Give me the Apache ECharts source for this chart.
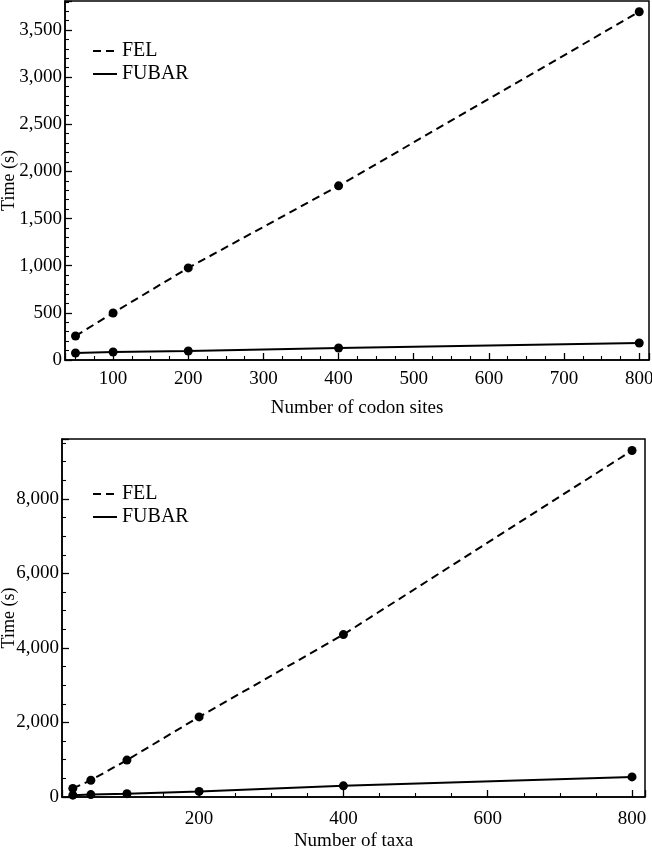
<!DOCTYPE html>
<html>
<head>
<meta charset="utf-8">
<script src="https://cdn.jsdelivr.net/npm/echarts@6/dist/echarts.min.js"></script>
<style>
html,body{margin:0;padding:0;background:#fff;}
#chart{width:652px;height:848px;}
</style>
</head>
<body>
<div id="chart"></div>
<script>
// Panel 1: varying number of codon sites
const sites = [50, 100, 200, 400, 800];
const felSites = [255, 499, 977, 1847, 3694];
const fubarSites = [74, 85, 95, 127, 180];
// Panel 2: varying number of taxa
const taxa = [25, 50, 100, 200, 400, 800];
const felTaxa = [230, 450, 990, 2150, 4360, 9300];
const fubarTaxa = [50, 65, 90, 150, 300, 540];

const seriesNames = ['FEL', 'FUBAR'];
const xNames = ['Number of codon sites', 'Number of taxa'];
const yName = 'Time (s)';

const FONT = 'Liberation Serif';
const fmt = v => Math.round(v).toLocaleString('en-US');

function xAxis(idx, min, max, splitNumber, minorSplit, labelMargin, gap) {
  return {
    type: 'value', gridIndex: idx, min: min, max: max, splitNumber: splitNumber,
    name: xNames[idx], nameLocation: 'middle', nameGap: gap, nameMoveOverlap: false,
    nameTextStyle: {fontFamily: FONT, fontSize: 19, color: '#000'},
    axisLine: {show: true, onZero: false, lineStyle: {color: '#000', width: 1.5}},
    axisTick: {show: true, inside: true, length: 7, lineStyle: {color: '#000', width: 1.3}},
    minorTick: {show: true, splitNumber: minorSplit, length: 4, lineStyle: {color: '#000', width: 1.1}},
    axisLabel: {fontFamily: FONT, fontSize: 19, color: '#000', margin: labelMargin, showMinLabel: false, showMaxLabel: false},
    splitLine: {show: false}
  };
}
function yAxis(idx, max, interval, minorSplit, gap) {
  return {
    type: 'value', gridIndex: idx, min: 0, max: max, interval: interval,
    name: yName, nameLocation: 'middle', nameGap: gap, nameMoveOverlap: false,
    nameTextStyle: {fontFamily: FONT, fontSize: 18, color: '#000'},
    axisLine: {show: true, lineStyle: {color: '#000', width: 1.5}},
    axisTick: {show: true, inside: true, length: 7, lineStyle: {color: '#000', width: 1.3}},
    minorTick: {show: true, splitNumber: minorSplit, length: 4, lineStyle: {color: '#000', width: 1.1}},
    axisLabel: {fontFamily: FONT, fontSize: 19, color: '#000', margin: 3, showMaxLabel: false, formatter: fmt},
    splitLine: {show: false}
  };
}
function line(name, xIdx, xs, ys, dashed) {
  return {
    name: name, type: 'line', xAxisIndex: xIdx, yAxisIndex: xIdx,
    data: xs.map((x, i) => [x, ys[i]]),
    symbol: 'circle', symbolSize: 9,
    itemStyle: {color: '#000'},
    lineStyle: {color: '#000', width: 2, type: dashed ? [8, 5] : 'solid'},
    emphasis: {disabled: true},
    animation: false
  };
}
const legendCommon = {
  orient: 'vertical', itemWidth: 24, itemHeight: 12, itemGap: 3,
  textStyle: {fontFamily: FONT, fontSize: 20, color: '#000'},
  itemStyle: {opacity: 0},
  data: seriesNames
};

const chart = echarts.init(document.getElementById('chart'), null, {renderer: 'canvas'});
chart.setOption({
  backgroundColor: '#fff',
  animation: false,
  grid: [
    {left: 65, top: 1, right: 3, height: 359, show: true, borderColor: '#000', borderWidth: 1.5, containLabel: false, outerBoundsMode: 'none'},
    {left: 62, top: 439, right: 7, height: 358, show: true, borderColor: '#000', borderWidth: 1.5, containLabel: false, outerBoundsMode: 'none'}
  ],
  legend: [
    Object.assign({}, legendCommon, {left: 87, top: 36}),
    Object.assign({}, legendCommon, {left: 87, top: 479})
  ],
  xAxis: [xAxis(0, 36, 813, 8, 4, 10, 39), xAxis(1, 10, 818, 4, 4, 13, 35)],
  yAxis: [yAxis(0, 3808, 500, 5, 47), yAxis(1, 9610, 2000, 4, 44)],
  series: [
    line(seriesNames[0], 0, sites, felSites, true),
    line(seriesNames[1], 0, sites, fubarSites, false),
    line(seriesNames[0], 1, taxa, felTaxa, true),
    line(seriesNames[1], 1, taxa, fubarTaxa, false)
  ]
});
</script>
</body>
</html>
